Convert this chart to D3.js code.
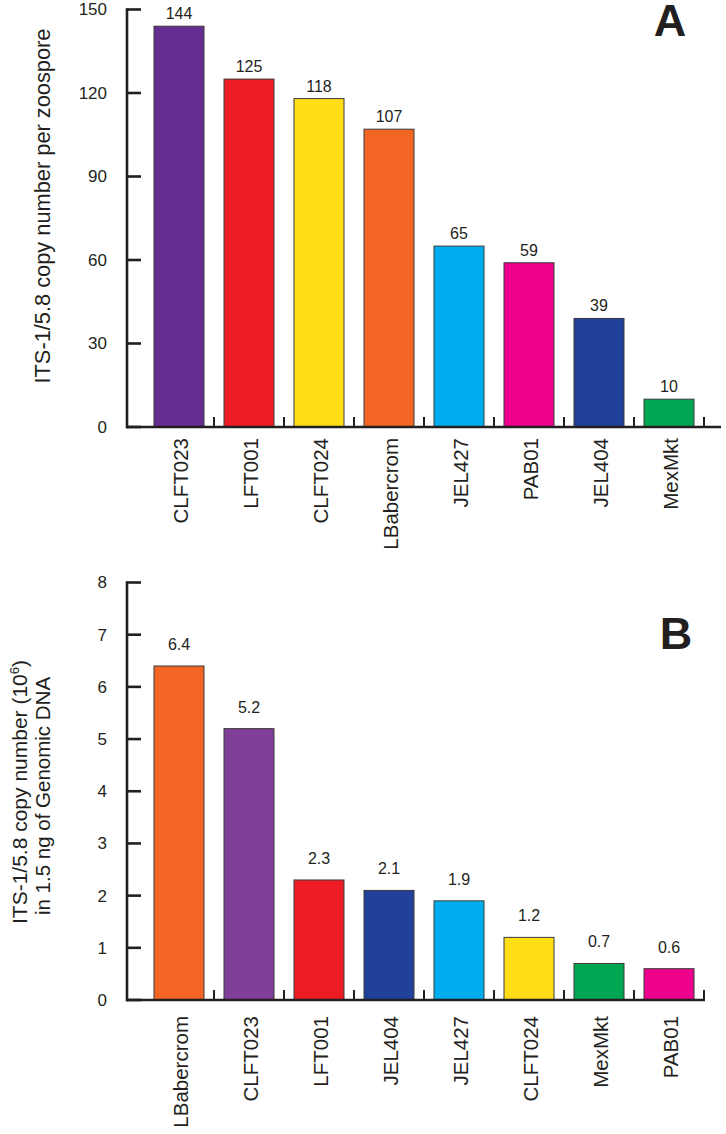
<!DOCTYPE html>
<html><head><meta charset="utf-8">
<script src="https://cdn.jsdelivr.net/npm/d3@7"></script>
<style>body{margin:0;background:#fff}svg{display:block}text{font-family:"Liberation Sans",Arial,sans-serif;fill:#231f20}</style>
</head><body>
<script>
// Panel A data
const catsA = ["CLFT023","LFT001","CLFT024","LBabercrom","JEL427","PAB01","JEL404","MexMkt"];
const valsA = [144,125,118,107,65,59,39,10];
const labelsA = ["144","125","118","107","65","59","39","10"];
const colorsA = ["#652d90","#ed1c24","#ffde17","#f26522","#00aeef","#ec008c","#21409a","#00a651"];
const ticksA = [0,30,60,90,120,150];
// Panel B data
const catsB = ["LBabercrom","CLFT023","LFT001","JEL404","JEL427","CLFT024","MexMkt","PAB01"];
const valsB = [6.4,5.2,2.3,2.1,1.9,1.2,0.7,0.6];
const labelsB = ["6.4","5.2","2.3","2.1","1.9","1.2","0.7","0.6"];
const colorsB = ["#f26522","#7f3f98","#ed1c24","#21409a","#00aeef","#ffde17","#00a651","#ec008c"];
const ticksB = [0,1,2,3,4,5,6,7,8];

const W = 726, H = 1134;
const svg = d3.select("body").append("svg").attr("width", W).attr("height", H);

function panel(o){
  const g = svg.append("g");
  const x = d3.scaleBand().domain(o.cats).range([144,704]).paddingInner(20/70).paddingOuter(10/70);
  const y = d3.scaleLinear().domain([0,o.max]).range([o.y0,o.y1]);
  // bars
  g.selectAll("rect.bar").data(o.vals).enter().append("rect")
    .attr("x",(d,i)=>x(o.cats[i])).attr("width",x.bandwidth())
    .attr("y",d=>y(d)).attr("height",d=>y(0)-y(d))
    .attr("fill",(d,i)=>o.colors[i]).attr("stroke","#3a3a3a").attr("stroke-width",1);
  // value labels
  g.selectAll("text.val").data(o.vals).enter().append("text")
    .attr("x",(d,i)=>x(o.cats[i])+x.bandwidth()/2).attr("y",d=>y(d)-o.valGap)
    .attr("text-anchor","middle").attr("font-size",16).text((d,i)=>o.labels[i]);
  // y axis
  const ya = d3.axisLeft(y).tickValues(o.ticks).tickSize(0).tickPadding(20).tickFormat(d3.format("d"));
  const yg = g.append("g").attr("transform",`translate(127,0)`).call(ya);
  yg.select(".domain").remove();
  yg.selectAll("text").attr("font-size",17).attr("fill","#231f20").attr("font-family","Liberation Sans, Arial, sans-serif");
  g.append("line").attr("x1",127).attr("x2",127).attr("y1",y(o.max)-1.2).attr("y2",y(0)+1.2).attr("stroke","#231f20").attr("stroke-width",2.6);
  g.selectAll("line.yt").data(o.ticks).enter().append("line")
    .attr("x1",127).attr("x2",141).attr("y1",d=>y(d)).attr("y2",d=>y(d))
    .attr("stroke","#231f20").attr("stroke-width",2.6);
  // x axis
  g.append("line").attr("x1",126).attr("x2",o.xEnd).attr("y1",y(0)).attr("y2",y(0)).attr("stroke","#231f20").attr("stroke-width",2.6);
  g.selectAll("line.xt").data(o.cats).enter().append("line")
    .attr("x1",d=>x(d)+x.bandwidth()+10).attr("x2",d=>x(d)+x.bandwidth()+10)
    .attr("y1",y(0)).attr("y2",y(0)-10).attr("stroke","#231f20").attr("stroke-width",2);
  // x labels
  g.selectAll("text.xl").data(o.cats).enter().append("text")
    .attr("transform",d=>`translate(${x(d)+x.bandwidth()/2+9},${y(0)+o.xlGap}) rotate(-90)`)
    .attr("text-anchor","end").attr("font-size",20.5).text(d=>d);
  return {x,y,g};
}

const A = panel({cats:catsA,vals:valsA,labels:labelsA,colors:colorsA,ticks:ticksA,max:150,y0:427,y1:9.5,valGap:7,xlGap:11,xEnd:721});
const B = panel({cats:catsB,vals:valsB,labels:labelsB,colors:colorsB,ticks:ticksB,max:8,y0:1000,y1:582.5,valGap:16,xlGap:16,xEnd:705});

// titles
svg.append("text").attr("transform","translate(50,206) rotate(-90)").attr("text-anchor","middle").attr("font-size",21.8)
  .text("ITS-1/5.8 copy number per zoospore");
const tB = svg.append("text").attr("transform","translate(27,792) rotate(-90)").attr("text-anchor","middle").attr("font-size",21);
tB.append("tspan").text("ITS-1/5.8 copy number (10");
tB.append("tspan").attr("font-size",13).attr("dy",-8).text("6");
tB.append("tspan").attr("dy",8).text(")");
svg.append("text").attr("transform","translate(50,796) rotate(-90)").attr("text-anchor","middle").attr("font-size",20.5)
  .text("in 1.5 ng of Genomic DNA");
svg.append("text").attr("x",670).attr("y",36).attr("text-anchor","middle").attr("font-size",45).attr("font-weight","bold").text("A");
svg.append("text").attr("x",676).attr("y",649).attr("text-anchor","middle").attr("font-size",45).attr("font-weight","bold").text("B");
</script>
</body></html>
